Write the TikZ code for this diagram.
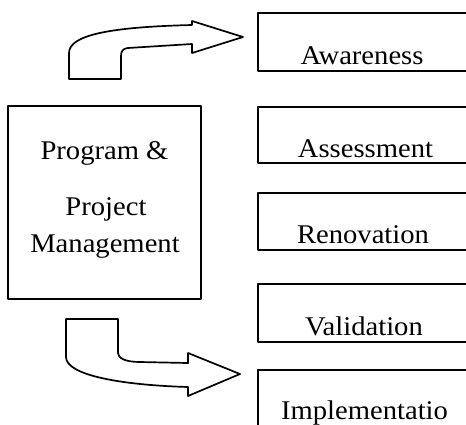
\documentclass[tikz,border=0pt]{standalone}
\usepackage{fontspec}
\setmainfont[FakeStretch=1.06]{Liberation Serif}
\begin{document}
\begin{tikzpicture}[x=1pt,y=-1pt,
  outline/.style={draw=black,line width=1.7pt,line join=round},
  lbl/.style={anchor=base,inner sep=0pt,font=\fontsize{27}{31}\selectfont}]
\useasboundingbox (0,0) rectangle (466,424);
\clip (0,0) rectangle (466,424);
\fill[white] (0,0) rectangle (466,424);
% main box
\node[outline,minimum width=193pt,minimum height=193pt,inner sep=0pt] (pm) at (104.5,202.5) {};
\node[lbl] (t1) at (104.5,159) {Program \&};
\node[lbl] (t2) at (106,215) {Project};
\node[lbl] (t3) at (105,252) {Management};
% right boxes (cut off at the right edge)
\draw[outline] (470,13) -- (258,13) -- (258,71) -- (470,71);
\draw[outline] (470,107) -- (258,107) -- (258,163) -- (470,163);
\draw[outline] (470,193) -- (258,193) -- (258,250) -- (470,250);
\draw[outline] (470,284) -- (258,284) -- (258,342) -- (470,342);
\draw[outline] (470,370) -- (258,370) -- (258,430);
\node[lbl] (aw) at (362,64) {Awareness};
\node[lbl] (as) at (365.5,157) {Assessment};
\node[lbl] (re) at (363,243) {Renovation};
\node[lbl] (va) at (364,335) {Validation};
\node[lbl] (im) at (364.5,419) {Implementatio};
% top bent block arrow
\draw[outline] (69,79) -- (69,53) .. controls (69,35) and (110,27) .. (192,25)
  -- (192,21) -- (243,37) -- (192,53) -- (192,44) -- (128,48)
  .. controls (123,48.5) and (121,51) .. (121,56) -- (121,79) -- cycle;
% bottom bent block arrow
\draw[outline] (66,319) -- (118,319) -- (118,353)
  .. controls (118,358) and (125,362) .. (140,362) -- (188,363)
  -- (188,353) -- (240,374) -- (188,396) -- (188,387)
  .. controls (120,385) and (66,375) .. (66,357) -- cycle;
\end{tikzpicture}
\end{document}
